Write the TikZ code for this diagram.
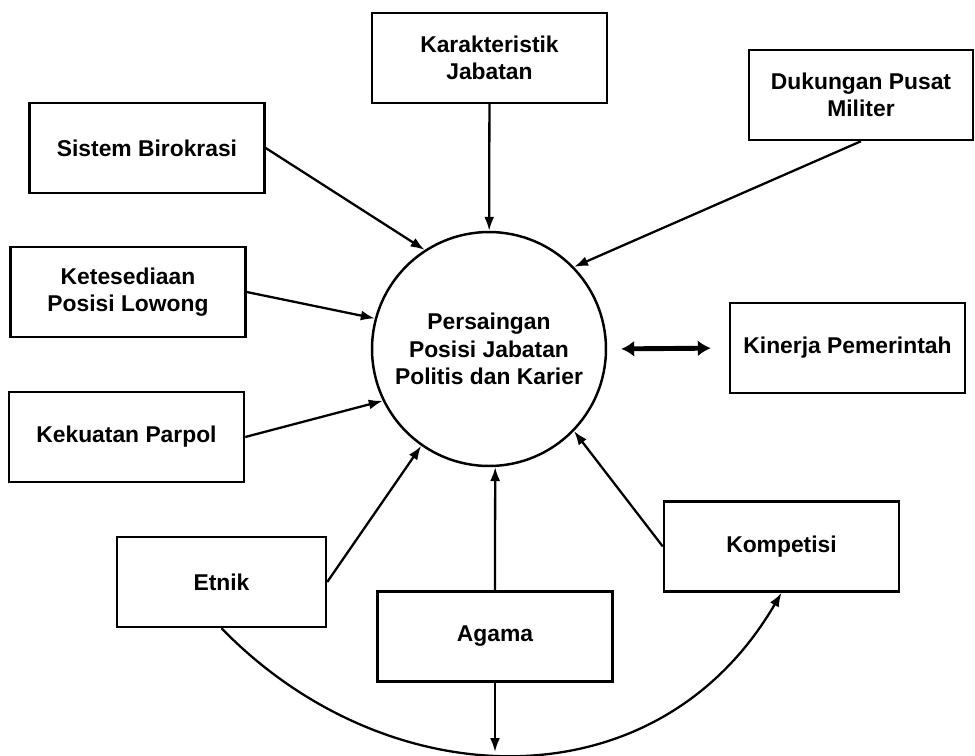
\documentclass[tikz,border=0pt]{standalone}
\usepackage{fontspec}
\setmainfont{Liberation Sans}
\usetikzlibrary{arrows.meta, calc}
\tikzset{
  box/.style={draw, rectangle, line width=1.4pt, align=center, minimum width=4.7cm, minimum height=1.8cm, inner sep=2pt, font=\fontsize{13}{15.6}\selectfont\bfseries},
  link/.style={line width=1.3pt, -{Latex[length=2.8mm, width=2mm]}},
  dbl/.style={line width=2.8pt, {Latex[length=2.6mm, width=3.2mm]}-{Latex[length=2.6mm, width=3.2mm]}, shorten <=0.28cm, shorten >=0.36cm}
}
\begin{document}
\begin{tikzpicture}[x=0.02cm, y=-0.02cm]
  \useasboundingbox (0,0) rectangle (975,755);
  \node[draw, circle, line width=1.4pt, minimum size=4.68cm, inner sep=0pt, align=center, font=\fontsize{13}{15.6}\selectfont\bfseries] (per) at (489, 349) {Persaingan\\Posisi Jabatan\\Politis dan Karier};
  \node[box] (kar) at (489.5, 58) {Karakteristik\\Jabatan};
  \node[box, minimum width=4.48cm] (duk) at (861, 95) {Dukungan Pusat\\Militer};
  \node[box] (sis) at (147, 148) {Sistem Birokrasi};
  \node[box] (ket) at (128, 292) {Ketesediaan\\Posisi Lowong};
  \node[box] (kek) at (126.5, 437) {Kekuatan Parpol};
  \node[box] (kin) at (847.5, 348) {Kinerja Pemerintah};
  \node[box, minimum width=4.18cm] (etn) at (221.5, 582) {Etnik};
  \node[box] (aga) at (495, 636.5) {Agama};
  \node[box] (kom) at (781.5, 546.5) {Kompetisi};
  \coordinate (bot) at (495, 752);
  \draw[link] (kar) -- (per);
  \draw[link] (sis.east) -- (per.123);
  \draw[link] (duk.south) -- (per.44);
  \draw[link] (ket.east) -- (per.165);
  \draw[link] (kek.east) -- (per.206);
  \draw[link] (etn.east) -- (per.235);
  \draw[link] (aga.north) -- (per.273);
  \draw[link] (kom.west) -- (per.316);
  \draw[dbl] (per.east) -- (kin.west);
  \draw[link] (aga.south) -- (bot);
  \draw[link] (etn.south) .. controls ($(etn.south)+(165,170)$) and ($(kom.south)+(-125,215)$) .. (kom.south);
\end{tikzpicture}
\end{document}
